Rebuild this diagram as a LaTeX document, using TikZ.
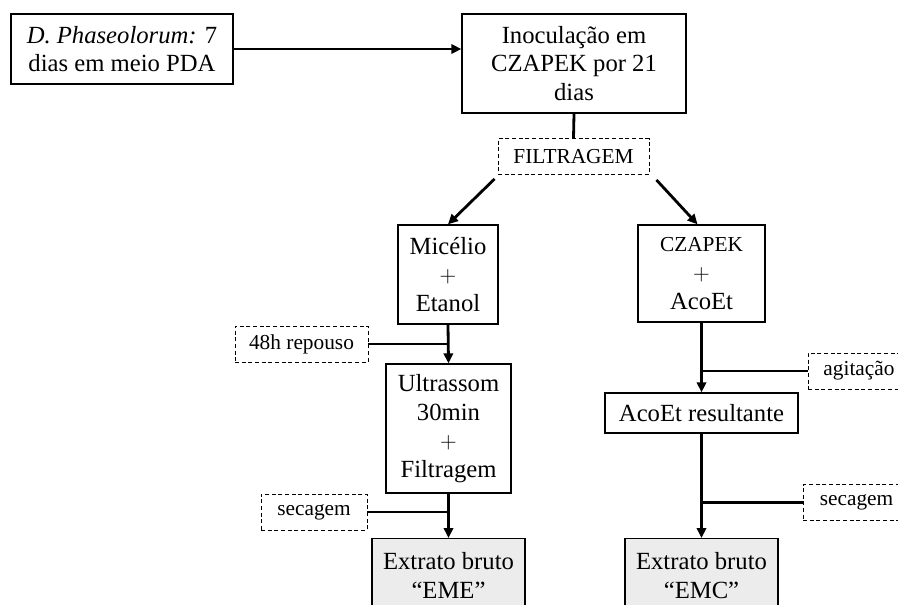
\documentclass[tikz,border=0pt]{standalone}
\usepackage{fontspec}
\setmainfont{Liberation Serif}
\usetikzlibrary{arrows.meta, positioning}

\begin{document}
\begin{tikzpicture}[
    x=0.75pt, y=-0.75pt,
    >={Triangle[length=7.5pt, width=7pt]},
    font=\fontsize{18.5}{21.5}\selectfont,
    stage/.style={draw, line width=1pt, align=center, inner sep=0pt},
    extract/.style={stage, fill=gray!15},
    cond/.style={draw, line width=0.7pt, dash pattern=on 3pt off 2pt, align=center,
                 inner sep=0pt, minimum height=27pt, font=\fontsize{16}{19}\selectfont},
    flow/.style={line width=2.1pt}
  ]
    \useasboundingbox (0,0) rectangle (898,604);

    \node[stage, minimum width=166.5pt, minimum height=52.5pt] (fungo) at (122,49)
        {\textit{D. Phaseolorum:} 7\\dias em meio PDA};
    \node[stage, minimum width=168pt, minimum height=74.25pt] (inoc) at (574,63.5)
        {Inoculação em\\CZAPEK por 21\\dias};
    \node[cond, minimum width=113.25pt] (filt) at (573.5,156.5) {FILTRAGEM};

    \node[stage, minimum width=75pt, minimum height=74.25pt] (mic) at (448,274.5)
        {Micélio\\$+$\\Etanol};
    \node[stage, minimum width=95.25pt, minimum height=72.75pt] (czap) at (701.5,273.5)
        {{\fontsize{16}{21.5}\selectfont CZAPEK}\\$+$\\AcoEt};

    \node[cond, minimum width=99.75pt] (repouso) at (301.5,344) {48h repouso};
    \node[stage, minimum width=93.75pt, minimum height=96.75pt] (ultra) at (448.5,428.5)
        {Ultrassom\\30min\\$+$\\Filtragem};
    \node[cond, minimum width=79.5pt] (sec1) at (314,512) {secagem};
    \node[extract, minimum width=114.75pt, minimum height=55pt, anchor=north] (eme) at (448.5,538)
        {Extrato bruto\\``EME''};

    \node[cond, minimum width=76.5pt] (agit) at (859,371) {agitação};
    \node[stage, minimum width=144.75pt, minimum height=30pt] (res) at (701.5,413)
        {AcoEt resultante};
    \node[cond, minimum width=80.25pt] (sec2) at (856.5,502.5) {secagem};
    \node[extract, minimum width=114.75pt, minimum height=55pt, anchor=north] (emc) at (701.5,538)
        {Extrato bruto\\``EMC''};

    \draw[flow, ->] (fungo.east) -- (fungo.east -| inoc.west);
    \draw[flow] (inoc.south) -- (filt.north);
    \draw[flow, ->] ([shift={(-3,4)}]filt.south west) -- (mic.north);
    \draw[flow, ->] ([shift={(7,5)}]filt.south east) -- ([xshift=-3]czap.north);

    \draw[flow, ->] (mic.south) -- (ultra.north);
    \draw[flow] (repouso.east) -- (repouso.east -| mic.south);
    \draw[flow, ->] (ultra.south) -- (eme.north);
    \draw[flow] (sec1.east) -- (sec1.east -| ultra.south);

    \draw[flow, ->] (czap.south) -- (res.north);
    \draw[flow] (agit.west) -- (agit.west -| czap.south);
    \draw[flow, ->] (res.south) -- (emc.north);
    \draw[flow] (sec2.west) -- (sec2.west -| res.south);
  \end{tikzpicture}
\end{document}
